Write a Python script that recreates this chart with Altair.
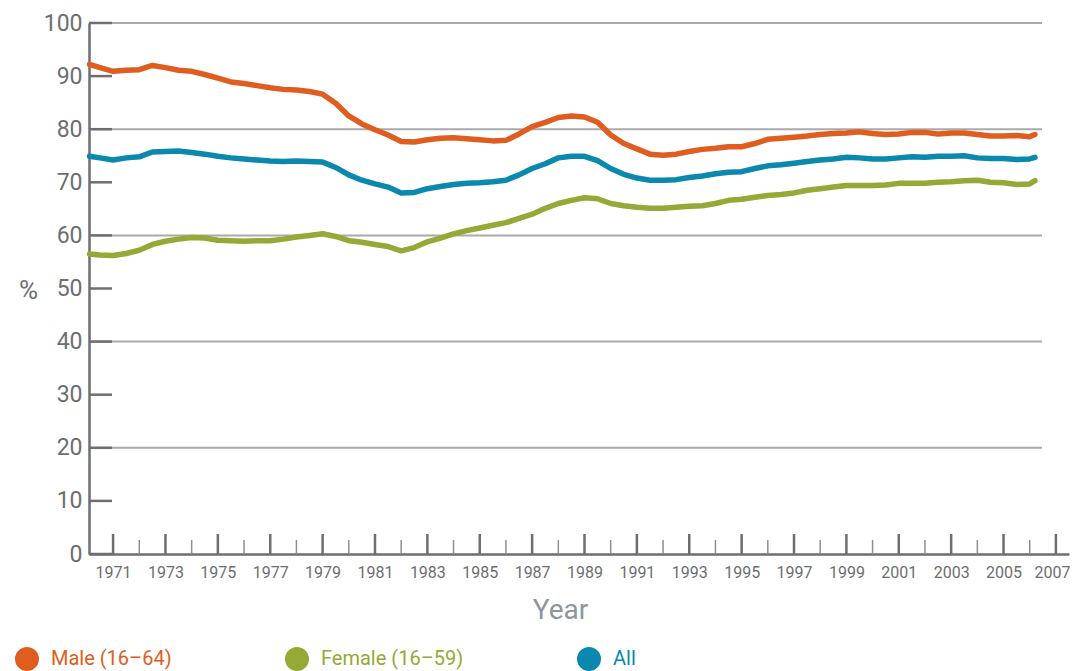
import altair as alt
import pandas as pd

years = [1970.1, 1970.5, 1971, 1971.5, 1972, 1972.5, 1973, 1973.5, 1974, 1974.5,
         1975, 1975.5, 1976, 1976.5, 1977, 1977.5, 1978, 1978.5, 1979, 1979.5,
         1980, 1980.5, 1981, 1981.5, 1982, 1982.5, 1983, 1983.5, 1984, 1984.5,
         1985, 1985.5, 1986, 1986.5, 1987, 1987.5, 1988, 1988.5, 1989, 1989.5,
         1990, 1990.5, 1991, 1991.5, 1992, 1992.5, 1993, 1993.5, 1994, 1994.5,
         1995, 1995.5, 1996, 1996.5, 1997, 1997.5, 1998, 1998.5, 1999, 1999.5,
         2000, 2000.5, 2001, 2001.5, 2002, 2002.5, 2003, 2003.5, 2004, 2004.5,
         2005, 2005.5, 2006, 2006.2]

male = [92.2, 91.6, 90.9, 91.1, 91.2, 92.0, 91.6, 91.1, 90.9, 90.3,
        89.6, 88.9, 88.6, 88.2, 87.8, 87.5, 87.4, 87.1, 86.6, 84.9,
        82.5, 81.0, 79.9, 78.9, 77.7, 77.6, 78.0, 78.3, 78.4, 78.2,
        78.0, 77.8, 77.9, 79.1, 80.5, 81.3, 82.2, 82.5, 82.3, 81.3,
        78.9, 77.3, 76.3, 75.3, 75.1, 75.3, 75.8, 76.2, 76.4, 76.7,
        76.7, 77.3, 78.1, 78.3, 78.5, 78.7, 79.0, 79.2, 79.3, 79.5,
        79.2, 79.0, 79.1, 79.4, 79.4, 79.1, 79.3, 79.3, 79.0, 78.7,
        78.7, 78.8, 78.6, 79.0]

female = [56.5, 56.3, 56.2, 56.6, 57.2, 58.3, 58.9, 59.3, 59.6, 59.5,
          59.1, 59.0, 58.9, 59.0, 59.0, 59.3, 59.7, 60.0, 60.3, 59.8,
          59.0, 58.7, 58.3, 57.9, 57.1, 57.7, 58.8, 59.5, 60.3, 60.9,
          61.4, 61.9, 62.4, 63.2, 64.0, 65.1, 66.0, 66.6, 67.1, 66.9,
          66.0, 65.6, 65.3, 65.1, 65.1, 65.3, 65.5, 65.6, 66.0, 66.6,
          66.8, 67.2, 67.5, 67.7, 68.0, 68.5, 68.8, 69.1, 69.4, 69.4,
          69.4, 69.5, 69.8, 69.8, 69.8, 70.0, 70.1, 70.3, 70.4, 70.0,
          69.9, 69.6, 69.7, 70.3]

all_people = [74.9, 74.6, 74.2, 74.6, 74.8, 75.7, 75.8, 75.9, 75.6, 75.3,
              74.9, 74.6, 74.4, 74.2, 74.0, 73.9, 74.0, 73.9, 73.8, 72.8,
              71.4, 70.4, 69.7, 69.1, 68.0, 68.1, 68.8, 69.2, 69.6, 69.8,
              69.9, 70.1, 70.4, 71.4, 72.6, 73.5, 74.6, 74.9, 74.9, 74.1,
              72.6, 71.5, 70.8, 70.4, 70.4, 70.5, 70.9, 71.2, 71.6, 71.9,
              72.0, 72.6, 73.1, 73.3, 73.6, 73.9, 74.2, 74.4, 74.7, 74.6,
              74.4, 74.4, 74.6, 74.8, 74.7, 74.9, 74.9, 75.0, 74.6, 74.5,
              74.5, 74.3, 74.4, 74.7]

series_names = ["Male (16–64)", "Female (16–59)", "All"]
series_colors = ["#e05d20", "#94a936", "#0a88ad"]

x_tick_years = list(range(1971, 2008))
x_label_years = list(range(1971, 2008, 2))
y_tick_values = list(range(0, 101, 10))
grid_values = [20, 40, 60, 80, 100]

rows = []
for name, vals in zip(series_names, [male, female, all_people]):
    for yr, v in zip(years, vals):
        rows.append({"year": yr, "value": v, "series": name})
df = pd.DataFrame(rows)

W, H = 980, 531
AX = "#6d6e71"
FONT = "Roboto"

x_scale = alt.Scale(domain=[1970.08, 2007.5], nice=False, zero=False)
y_scale = alt.Scale(domain=[0, 100], nice=False, zero=True)

x_axis = alt.Axis(
    values=x_label_years, format="d", tickSize=0, labelPadding=10,
    labelFontSize=16, labelColor=AX, labelFont=FONT, labelFlush=14,
    labelFlushOffset=14, labelOverlap=False, domainColor=AX, domainWidth=2.5,
    grid=False, title="Year", titleFontSize=28, titleFont=FONT,
    titleFontWeight="normal", titleColor="#8b969f", titleX=471, titleY=56,
    titleBaseline="middle", titleAlign="center")
y_axis = alt.Axis(
    values=y_tick_values, tickSize=0, labelPadding=7, labelFontSize=23,
    labelColor=AX, labelFont=FONT, labelFlush=False, labelOverlap=False,
    domainColor=AX, domainWidth=2.5, grid=False,
    title="%", titleAngle=0, titleX=-61, titleY=267, titleFontSize=26,
    titleFont=FONT, titleFontWeight="normal", titleColor=AX,
    titleAlign="center", titleBaseline="middle")

grid = alt.Chart(pd.DataFrame({"v": grid_values})).mark_rule(
    color="#a9aaad", strokeWidth=2
).encode(
    y=alt.Y("v:Q", scale=y_scale, axis=y_axis),
    x=alt.value(0),
    x2=alt.value(953),
)

label_color_expr = ("datum.value == '%s' ? '%s' : datum.value == '%s' ? '%s' : '%s'"
                    % (series_names[0], series_colors[0], series_names[1],
                       series_colors[1], series_colors[2]))

lines = alt.Chart(df).mark_line(strokeWidth=5.5, strokeCap="round", strokeJoin="round").encode(
    x=alt.X("year:Q", scale=x_scale, axis=x_axis),
    y=alt.Y("value:Q", scale=y_scale, axis=y_axis),
    color=alt.Color("series:N", scale=alt.Scale(domain=series_names, range=series_colors),
                    legend=alt.Legend(
                        title=None, orient="none", legendX=-74, legendY=624,
                        direction="horizontal", symbolType="circle",
                        symbolSize=144, symbolStrokeWidth=12, symbolOpacity=1,
                        labelFontSize=20, labelFont=FONT, labelOffset=12,
                        labelColor=alt.ExprRef(expr=label_color_expr),
                        columnPadding=95)),
)

xt = pd.DataFrame({"yr": x_tick_years})
xt["major"] = xt["yr"] % 2 == 1
major_x = alt.Chart(xt).transform_filter("datum.major").mark_rule(
    color=AX, strokeWidth=2.5
).encode(x=alt.X("yr:Q", scale=x_scale, axis=x_axis), y=alt.value(H), y2=alt.value(H - 20))
minor_x = alt.Chart(xt).transform_filter("!datum.major").mark_rule(
    color="#8e8f92", strokeWidth=1.5
).encode(x=alt.X("yr:Q", scale=x_scale, axis=x_axis), y=alt.value(H), y2=alt.value(H - 14))

y_ticks = alt.Chart(pd.DataFrame({"v": y_tick_values})).mark_rule(
    color=AX, strokeWidth=2.5
).encode(y=alt.Y("v:Q", scale=y_scale, axis=y_axis), x=alt.value(0), x2=alt.value(23))

chart = alt.layer(grid, y_ticks, major_x, minor_x, lines).properties(
    width=W, height=H,
    autosize=alt.AutoSizeParams(type="none"),
    padding={"left": 81, "top": 15, "right": 1, "bottom": 117},
    background="white",
).configure_view(stroke=None)

chart.save("out.html", embed_options={"renderer": "svg", "actions": False})
